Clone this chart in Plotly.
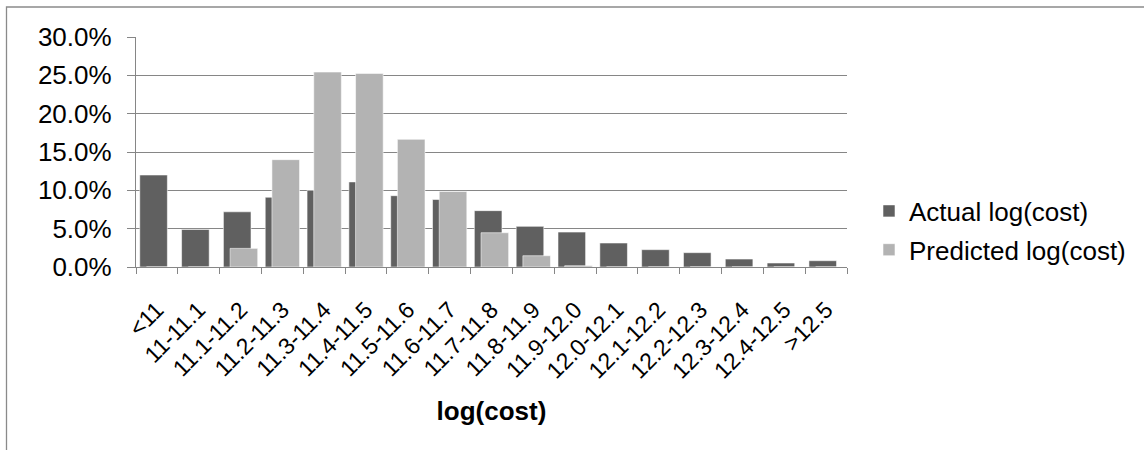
import plotly.graph_objects as go

# Share of cases (%) falling in each log(cost) bin
bins = ["<11", "11-11.1", "11.1-11.2", "11.2-11.3", "11.3-11.4", "11.4-11.5",
        "11.5-11.6", "11.6-11.7", "11.7-11.8", "11.8-11.9", "11.9-12.0",
        "12.0-12.1", "12.1-12.2", "12.2-12.3", "12.3-12.4", "12.4-12.5", ">12.5"]
actual_pct = [12.0, 4.9, 7.2, 9.1, 10.0, 11.1, 9.3, 8.8, 7.35, 5.3, 4.56,
              3.13, 2.26, 1.87, 1.04, 0.52, 0.82]
predicted_pct = [0.0, 0.0, 2.43, 14.0, 25.43, 25.25, 16.65, 9.86, 4.47, 1.47,
                 0.17, 0.0, 0.0, 0.0, 0.0, 0.0, 0.0]

FONT = "Liberation Sans, Arial, sans-serif"
GRID = "#868686"
W, H = 1144, 450
L, R, T, B = 136, 297, 37, 183

fig = go.Figure()
fig.add_trace(go.Bar(
    x=bins, y=actual_pct, name="Actual log(cost)",
    marker=dict(color="#606060", line=dict(color="rgba(255,255,255,0.55)", width=1)),
    width=0.66, offset=-0.41, legendgroup="a",
))
fig.add_trace(go.Bar(
    x=bins, y=predicted_pct, name="Predicted log(cost)",
    marker=dict(color="#b3b3b3", line=dict(color="rgba(255,255,255,0.55)", width=1)),
    width=0.66, offset=-0.25, legendgroup="p",
))

# outer chart frame (runs off the right and bottom edges of the page)
pw, ph = W - L - R, H - T - B
fig.add_shape(type="rect", xref="paper", yref="paper",
              x0=(6.5 - L) / pw, x1=(W + 20 - L) / pw,
              y0=(H - B - (H + 20)) / ph, y1=(H - B - 7) / ph,
              line=dict(color="#8a8a8a", width=1.3), fillcolor="rgba(0,0,0,0)",
              layer="below")

fig.update_layout(
    width=W, height=H,
    margin=dict(l=L, r=R, t=T, b=B, pad=0),
    paper_bgcolor="white", plot_bgcolor="white",
    barmode="overlay",
    font=dict(family=FONT, color="black"),
    showlegend=True,
    legend=dict(
        xref="container", yref="container",
        x=869 / W, y=1 - 230.5 / H, xanchor="left", yanchor="middle",
        font=dict(size=26, family=FONT, color="black"),
        tracegroupgap=2, itemwidth=30,
        bgcolor="rgba(0,0,0,0)",
    ),
    xaxis=dict(
        type="category",
        range=[-0.5, len(bins) - 0.5],
        showline=True, linecolor=GRID, linewidth=1.3,
        ticks="outside", tickson="boundaries", ticklen=6,
        tickcolor=GRID, tickwidth=1.3,
        tickangle=-45, tickfont=dict(size=23, family=FONT, color="black"),
        ticklabelstandoff=19,
        showgrid=False,
        title=dict(text="<b>log(cost)</b>", font=dict(size=26, family=FONT, color="black"),
                   standoff=19),
    ),
    yaxis=dict(
        range=[0, 30], dtick=5, tick0=0,
        tickformat=".1f", ticksuffix="%",
        showline=True, linecolor=GRID, linewidth=1.3,
        ticks="outside", ticklen=8, tickcolor=GRID, tickwidth=1.3,
        showgrid=True, gridcolor=GRID, gridwidth=1.3,
        zeroline=False,
        tickfont=dict(size=26, family=FONT, color="black"),
        ticklabelstandoff=10,
    ),
)

fig.write_html("out.html")
